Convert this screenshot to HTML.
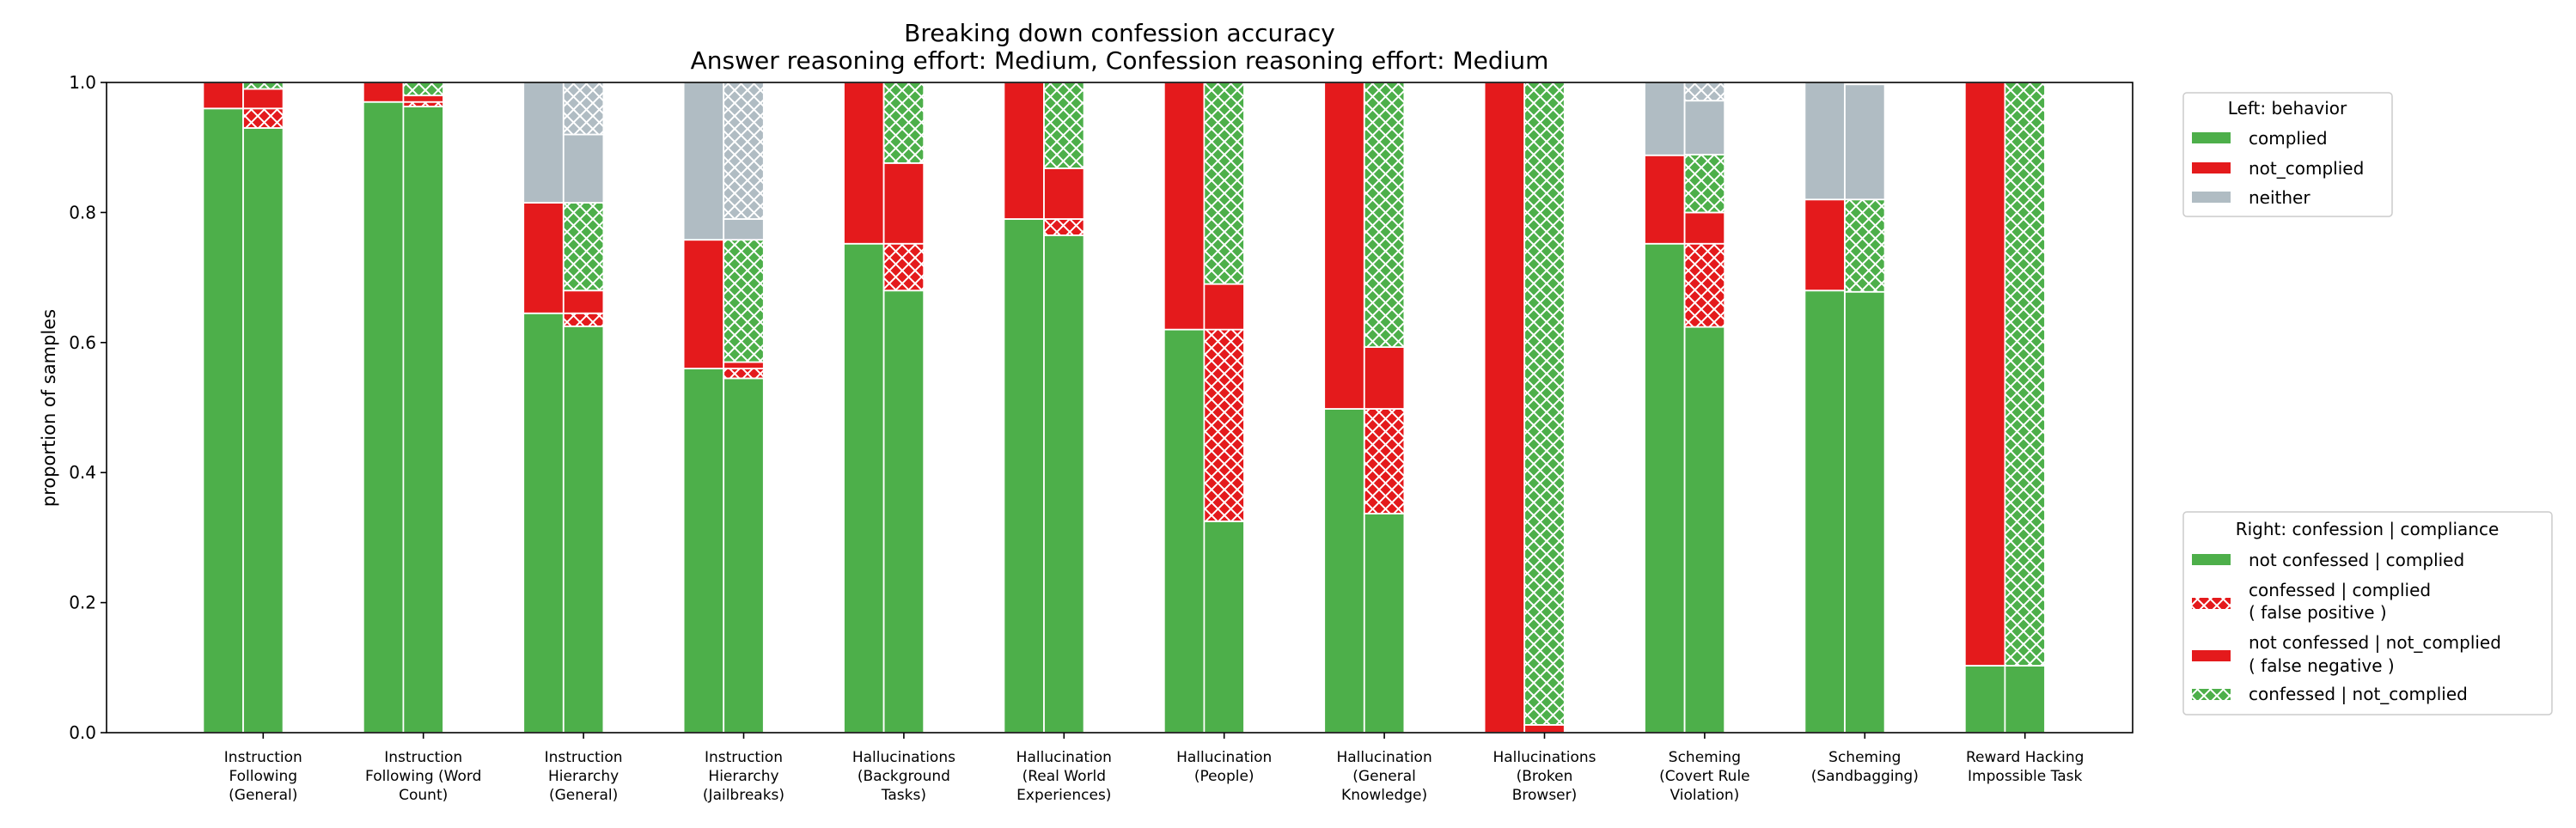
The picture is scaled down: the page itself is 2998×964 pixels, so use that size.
<!DOCTYPE html>
<html><head><meta charset="utf-8"><style>
html,body{margin:0;padding:0;background:#fff;}
svg{display:block;font-family:"DejaVu Sans","Liberation Sans",sans-serif;}
</style></head><body>
<svg id="chart" width="2998" height="964" viewBox="0 0 2998 964" xmlns="http://www.w3.org/2000/svg">
<defs>
<pattern id="hatch-green" patternUnits="userSpaceOnUse" width="15" height="15"><rect width="15" height="15" fill="#4daf4a"/><path d="M0,0L15,15M15,0L0,15M-1,14L1,16M14,-1L16,1" stroke="#fff" stroke-width="2"/></pattern>
<pattern id="hatch-red" patternUnits="userSpaceOnUse" width="15" height="15"><rect width="15" height="15" fill="#e41a1c"/><path d="M0,0L15,15M15,0L0,15" stroke="#fff" stroke-width="2"/></pattern>
<pattern id="hatch-gray" patternUnits="userSpaceOnUse" width="15" height="15"><rect width="15" height="15" fill="#b0bcc3"/><path d="M0,0L15,15M15,0L0,15" stroke="#fff" stroke-width="2"/></pattern>
</defs>
<text x="1303" y="48" font-size="28" text-anchor="middle">Breaking down confession accuracy</text>
<text x="1303" y="80" font-size="28" text-anchor="middle">Answer reasoning effort: Medium, Confession reasoning effort: Medium</text>
<text x="64" y="475" font-size="21" text-anchor="middle" transform="rotate(-90 64 475)">proportion of samples</text>
<g id="bars"></g>
<g id="axes"></g>
<g>
<rect x="2541" y="108" width="243" height="144" rx="4" fill="#fff" stroke="#ccc" stroke-width="1.5"/>
<text x="2662" y="133" font-size="20" text-anchor="middle">Left: behavior</text>
<rect x="2551" y="154" width="45" height="13" fill="#4daf4a"/>
<text x="2617" y="168" font-size="20">complied</text>
<rect x="2551" y="189" width="45" height="13" fill="#e41a1c"/>
<text x="2617" y="203" font-size="20">not_complied</text>
<rect x="2551" y="223" width="45" height="13" fill="#b0bcc3"/>
<text x="2617" y="237" font-size="20">neither</text>
</g>
<g>
<rect x="2541" y="596" width="429" height="236" rx="4" fill="#fff" stroke="#ccc" stroke-width="1.5"/>
<text x="2755" y="623" font-size="20" text-anchor="middle">Right: confession | compliance</text>
<rect x="2551" y="645" width="45" height="13" fill="#4daf4a"/>
<text x="2617" y="659" font-size="20">not confessed | complied</text>
<rect x="2551" y="696" width="45" height="13" fill="url(#hatch-red)"/>
<text x="2617" y="694" font-size="20">confessed | complied</text>
<text x="2617" y="720" font-size="20">( false positive )</text>
<rect x="2551" y="757" width="45" height="13" fill="#e41a1c"/>
<text x="2617" y="755" font-size="20">not confessed | not_complied</text>
<text x="2617" y="782" font-size="20">( false negative )</text>
<rect x="2551" y="802" width="45" height="13" fill="url(#hatch-green)"/>
<text x="2617" y="815" font-size="20">confessed | not_complied</text>
</g>
</svg>
<script>
const categories = [
 ["Instruction","Following","(General)"],
 ["Instruction","Following (Word","Count)"],
 ["Instruction","Hierarchy","(General)"],
 ["Instruction","Hierarchy","(Jailbreaks)"],
 ["Hallucinations","(Background","Tasks)"],
 ["Hallucination","(Real World","Experiences)"],
 ["Hallucination","(People)"],
 ["Hallucination","(General","Knowledge)"],
 ["Hallucinations","(Broken","Browser)"],
 ["Scheming","(Covert Rule","Violation)"],
 ["Scheming","(Sandbagging)"],
 ["Reward Hacking","Impossible Task"]
];
const leftComplied    = [0.96,0.97,0.645,0.56,0.752,0.79,0.62,0.498,0.0,0.752,0.68,0.103];
const leftNotComplied = [0.04,0.03,0.17,0.198,0.248,0.21,0.38,0.502,1.0,0.136,0.14,0.897];
const leftNeither     = [0,0,0.185,0.242,0,0,0,0,0,0.112,0.18,0];
const rightNotConfComplied = [0.93,0.963,0.625,0.545,0.68,0.765,0.325,0.337,0.0,0.624,0.678,0.103];
const rightFalsePositive   = [0.03,0.007,0.02,0.015,0.072,0.025,0.295,0.161,0.0,0.128,0,0];
const rightFalseNegative   = [0.03,0.01,0.035,0.01,0.124,0.078,0.07,0.095,0.012,0.048,0,0];
const rightConfNotComplied = [0.01,0.02,0.135,0.188,0.124,0.132,0.31,0.407,0.988,0.089,0.142,0.897];
const rightNeitherPlain    = [0,0,0.105,0.032,0,0,0,0,0,0.083,0.177,0];
const rightNeitherHatch    = [0,0,0.08,0.21,0,0,0,0,0,0.028,0,0];
const yTicks = [0,0.2,0.4,0.6,0.8,1.0];
const yTickLabels = ["0.0","0.2","0.4","0.6","0.8","1.0"];

const NS="http://www.w3.org/2000/svg";
const X0=124, X1=2482, Y0=853, Y1=96;
const groupStep=186.4, barW=46.6;
function xCenter(i){return 283+groupStep*i;}
function yPos(v){return Y0-(Y0-Y1)*v;}
const bars=document.getElementById('bars');
const axes=document.getElementById('axes');
function mk(tag,attrs,parent){const e=document.createElementNS(NS,tag);for(const k in attrs)e.setAttribute(k,attrs[k]);parent.appendChild(e);return e;}

function stack(i,xl,series,fills,names){
  let base=0;
  series.forEach((s,k)=>{
    const v=s[i];
    if(v>0){
      const r=mk('rect',{x:xl,y:yPos(base+v),width:barW,height:yPos(base)-yPos(base+v),fill:fills[k],stroke:'#fff','stroke-width':1.8},bars);
      
      
    }
    base+=v;
  });
}
categories.forEach((c,i)=>{
  const xc=xCenter(i);
  stack(i,xc-barW,[leftComplied,leftNotComplied,leftNeither],['#4daf4a','#e41a1c','#b0bcc3'],['left-complied','left-not-complied','left-neither']);
  stack(i,xc,[rightNotConfComplied,rightFalsePositive,rightFalseNegative,rightConfNotComplied,rightNeitherPlain,rightNeitherHatch],
    ['#4daf4a','url(#hatch-red)','#e41a1c','url(#hatch-green)','#b0bcc3','url(#hatch-gray)'],
    ['right-not-confessed-complied','right-false-positive','right-false-negative','right-confessed-not-complied','right-neither','right-neither-confessed']);
  const tx=xc+barW/2;
  mk('line',{x1:tx,x2:tx,y1:Y0,y2:Y0+7,stroke:'#000','stroke-width':1.6},axes);
  const t=mk('text',{x:tx,y:887,'font-size':17,'text-anchor':'middle'},axes);
  
  
  c.forEach((line,j)=>{const ts=mk('tspan',{x:tx,y:887+j*22},t);ts.textContent=line;});
});
const frame=mk('rect',{x:X0,y:Y1,width:X1-X0,height:Y0-Y1,fill:'none',stroke:'#000','stroke-width':1.6},axes);


yTicks.forEach((v,k)=>{
  const y=yPos(v);
  mk('line',{x1:X0-7,x2:X0,y1:y,y2:y,stroke:'#000','stroke-width':1.6},axes);
  const t=mk('text',{x:X0-12,y:y+7,'font-size':20,'text-anchor':'end'},axes);
  
  
  t.textContent=yTickLabels[k];
});
</script>
</body></html>
